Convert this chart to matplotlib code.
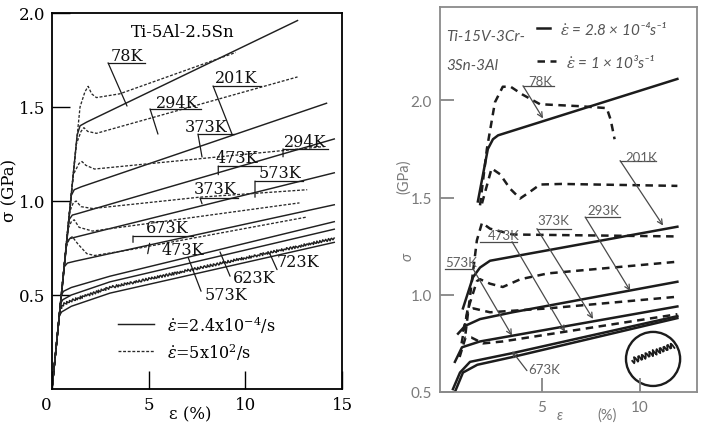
import matplotlib
matplotlib.use("Agg")
import matplotlib.pyplot as plt
from matplotlib.patches import Ellipse

plt.rcParams['mathtext.fontset'] = 'dejavuserif'

# ---------------- left panel: Ti-5Al-2.5Sn (strain %, stress GPa) ----------------
# solid = quasi-static 2.4x10^-4/s
l_s78 = ([0, 1.3, 1.45, 1.8, 12.7], [0, 1.35, 1.40, 1.42, 1.96])
l_s201 = ([0, 1.0, 1.15, 1.5, 14.2], [0, 1.03, 1.06, 1.075, 1.52])
l_s294 = ([0, 0.88, 1.05, 1.4, 14.6], [0, 0.90, 0.925, 0.935, 1.33])
l_s373 = ([0, 0.76, 0.92, 1.3, 14.6], [0, 0.78, 0.80, 0.81, 1.15])
l_s473 = ([0, 0.63, 0.8, 1.2, 14.6], [0, 0.65, 0.67, 0.68, 0.98])
l_s623 = ([0, 0.48, 0.6, 1.0, 3.0, 14.6], [0, 0.50, 0.52, 0.54, 0.60, 0.89])
l_s673 = ([0, 0.44, 0.56, 1.0, 3.0, 14.6], [0, 0.455, 0.475, 0.50, 0.57, 0.85])
l_s723 = ([0, 0.38, 0.5, 1.0, 3.0, 14.6], [0, 0.39, 0.41, 0.44, 0.51, 0.78])
l_s573_el = ([0, 0.42], [0, 0.43])
l_s573_pl = ([0.42, 0.6, 1.0, 3.0, 14.6], [0.43, 0.45, 0.47, 0.54, 0.80])   # serrated

# dashed = dynamic 5x10^2/s
l_d78 = ([0, 1.45, 1.7, 1.87, 2.05, 2.3, 3.5, 9.5],
         [0, 1.50, 1.58, 1.61, 1.57, 1.55, 1.57, 1.79])
l_d294 = ([0, 1.25, 1.5, 1.65, 1.85, 2.3, 12.7],
          [0, 1.30, 1.37, 1.39, 1.37, 1.36, 1.66])
l_d373 = ([0, 1.1, 1.4, 1.55, 1.75, 2.2, 14.1],
          [0, 1.14, 1.20, 1.21, 1.19, 1.17, 1.29])
l_d473 = ([0, 0.9, 1.1, 1.25, 1.5, 2.1, 7.6, 13.2],
          [0, 0.94, 0.99, 1.00, 0.97, 0.96, 1.02, 1.06])
l_d573 = ([0, 0.82, 1.0, 1.15, 1.4, 2.1, 12.8],
          [0, 0.85, 0.89, 0.90, 0.86, 0.84, 0.99])
l_d673 = ([0, 0.72, 0.9, 1.05, 1.35, 1.8, 2.2, 4.0, 13.2],
          [0, 0.75, 0.80, 0.81, 0.77, 0.72, 0.71, 0.74, 0.915])

# labels: text, text centre, leader start, leader end, underline end
l_labels = [
    ("78K", (3.85, 1.775), (2.9, 1.735), (3.88, 1.505), 4.8),
    ("201K", (9.55, 1.655), (8.33, 1.612), (9.31, 1.356), 10.8),
    ("294K", (6.45, 1.525), (5.07, 1.49), (5.48, 1.356), 7.7),
    ("373K", (7.98, 1.396), (7.55, 1.356), (7.76, 1.234), 9.4),
    ("294K", (13.1, 1.316), (11.95, 1.277), (11.95, 1.235), 14.3),
    ("473K", (9.55, 1.23), (8.6, 1.186), (8.6, 1.14), 10.8),
    ("573K", (11.8, 1.15), (10.5, 1.106), (10.5, 1.02), 13.0),
    ("373K", (8.43, 1.065), (7.66, 1.016), (7.76, 0.985), 9.6),
    ("673K", (5.97, 0.86), (4.19, 0.814), (4.19, 0.78), 7.3),
    ("473K", (6.75, 0.74), (5.05, 0.775), (4.95, 0.72), None),
    ("623K", (10.45, 0.593), (9.21, 0.60), (8.69, 0.729), None),
    ("573K", (9.0, 0.50), (7.71, 0.52), (7.04, 0.70), None),
    ("723K", (12.7, 0.68), (11.28, 0.717), (11.64, 0.635), None),
]

# ---------------- right panel: Ti-15V-3Cr-3Sn-3Al ----------------
r_s78 = ([1.73, 2.24, 2.5, 2.76, 11.9], [1.48, 1.75, 1.80, 1.82, 2.11])
r_d78 = ([1.84, 2.19, 2.6, 3.0, 3.4, 4.0, 4.9, 6.9, 8.3, 8.5, 8.7],
         [1.46, 1.75, 1.99, 2.07, 2.07, 2.03, 1.98, 1.97, 1.96, 1.90, 1.80])
r_d201 = ([1.94, 2.43, 2.86, 3.37, 3.88, 4.39, 4.9, 6.0, 11.9],
          [1.47, 1.65, 1.62, 1.546, 1.495, 1.53, 1.567, 1.57, 1.56])
r_s293 = ([0.97, 1.48, 1.84, 2.35, 11.9], [0.93, 1.09, 1.14, 1.175, 1.35])
r_d293 = ([1.1, 1.4, 1.68, 1.94, 2.35, 3.5, 11.9], [0.80, 1.05, 1.28, 1.37, 1.34, 1.31, 1.30])
r_s373 = ([0.72, 1.08, 1.84, 3.5, 11.9], [0.80, 0.84, 0.875, 0.91, 1.067])
r_d373 = ([0.97, 1.3, 1.68, 1.84, 2.35, 3.0, 3.9, 5.3, 11.9],
          [0.81, 0.95, 1.07, 1.08, 1.057, 1.04, 1.08, 1.11, 1.17])
r_s473 = ([0.56, 0.92, 1.84, 11.9], [0.655, 0.73, 0.76, 0.94])
r_d473 = ([0.9, 1.2, 1.5, 2.35, 5.3, 11.9], [0.75, 0.92, 0.93, 0.91, 0.93, 0.99])
r_d573 = ([0.8, 1.1, 1.4, 2.0, 3.0, 11.9], [0.68, 0.78, 0.78, 0.75, 0.76, 0.90])
r_s573 = ([0.46, 0.82, 1.33, 3.5, 11.9], [0.515, 0.60, 0.655, 0.70, 0.89])
r_s673 = ([0.56, 0.97, 1.7, 3.5, 11.9], [0.50, 0.60, 0.64, 0.68, 0.88])
r_zigzag = ([9.6, 11.7], [0.66, 0.74])

r_labels = [
    ("78K", (4.9, 2.10), (4.03, 2.075), (5.05, 1.907), 5.6),
    ("201K", (10.05, 1.71), (8.98, 1.69), (11.17, 1.356), 10.8),
    ("293K", (8.15, 1.435), (7.2, 1.40), (9.5, 1.02), 9.0),
    ("373K", (5.6, 1.385), (4.74, 1.34), (7.6, 0.876), 6.5),
    ("473K", (3.05, 1.305), (3.47, 1.273), (6.17, 0.81), None),
    ("573K", (0.9, 1.17), (1.48, 1.134), (3.47, 0.79), None),
    ("673K", (5.1, 0.62), (4.23, 0.61), (3.47, 0.71), None),
]

fig = plt.figure(figsize=(7.04, 4.27), dpi=100)
ax1 = fig.add_axes([52 / 704, 1 - 390 / 427, 290 / 704, 376 / 427])
ax2 = fig.add_axes([440 / 704, 1 - 393 / 427, 257 / 704, 385 / 427])

serif = 'DejaVu Serif'
sans = ['Lato', 'DejaVu Sans']

# ---- left drawing ----
sk = dict(color='#202020', lw=1.05)
dk = dict(color='#2a2a2a', lw=0.95, linestyle=(0, (2.2, 1.3)))
for c in [l_s78, l_s201, l_s294, l_s373, l_s473, l_s623, l_s673, l_s723, l_s573_el]:
    ax1.plot(c[0], c[1], **sk)
ln, = ax1.plot(l_s573_pl[0], l_s573_pl[1], **sk)
ln.set_sketch_params(scale=1.3, length=3, randomness=1.5)
for c in [l_d78, l_d294, l_d373, l_d473, l_d573, l_d673]:
    ax1.plot(c[0], c[1], **dk)

for txt, tp, p0, p1, uend in l_labels:
    ax1.text(tp[0], tp[1], txt, family=serif, fontsize=11.5, ha='center', va='center', color='#111111')
    ax1.annotate('', xy=p1, xytext=p0, arrowprops=dict(arrowstyle='-', lw=0.9, color='#1a1a1a',
                                                       shrinkA=0, shrinkB=0))
    if uend is not None:
        ax1.plot([p0[0], uend], [p0[1], p0[1]], color='#1a1a1a', lw=0.9)

ax1.text(6.78, 1.90, "Ti-5Al-2.5Sn", family=serif, fontsize=12, ha='center', va='center')
ax1.plot([3.4, 5.3], [0.345, 0.345], **sk)
ax1.plot([3.4, 5.3], [0.20, 0.20], **dk)
ax1.text(5.95, 0.345, r'$\dot{\varepsilon}$=2.4x10$^{-4}$/s', family=serif, fontsize=11.5, va='center')
ax1.text(5.95, 0.20, r'$\dot{\varepsilon}$=5x10$^{2}$/s', family=serif, fontsize=11.5, va='center')

ax1.set_xlim(0, 15)
ax1.set_ylim(0, 2.0)
ax1.set_xticks([0, 5, 10, 15])
ax1.set_xticklabels(['0', '5', '10', '15'], family=serif, fontsize=12)
ax1.get_xticklabels()[0].set_ha('right')
ax1.set_yticks([0.5, 1.0, 1.5, 2.0])
ax1.set_yticklabels(['0.5', '1.0', '1.5', '2.0'], family=serif, fontsize=12)
ax1.tick_params(direction='in', length=13, width=1.0, pad=5)
for s in ax1.spines.values():
    s.set_linewidth(1.3)
fig.text(10 / 704, 1 - 190 / 427, "σ (GPa)", rotation=90, family=serif, fontsize=12,
         ha='center', va='center')
fig.text(190 / 704, 1 - 415 / 427, "ε (%)", family=serif, fontsize=12, ha='center', va='center')

# ---- right drawing ----
grey = '#7a7a7a'
rs = dict(color='#1c1c1c', lw=1.8)
rd = dict(color='#1c1c1c', lw=1.8, linestyle=(0, (3.0, 2.2)))
for c in [r_s78, r_s293, r_s373, r_s473, r_s573, r_s673]:
    ax2.plot(c[0], c[1], **rs)
for c in [r_d78, r_d201, r_d293, r_d373, r_d473, r_d573]:
    ax2.plot(c[0], c[1], **rd)

ax2.add_patch(Ellipse((10.66, 0.67), 2.76, 0.278, fill=False, lw=1.7, color='#1c1c1c'))
zz, = ax2.plot(r_zigzag[0], r_zigzag[1], color='#1c1c1c', lw=1.3)
zz.set_sketch_params(scale=3, length=4, randomness=1.2)

for txt, tp, p0, p1, uend in r_labels:
    ax2.text(tp[0], tp[1], txt, family=sans, fontsize=9.5, ha='center', va='center', color='#606060')
    ax2.annotate('', xy=p1, xytext=p0,
                 arrowprops=dict(arrowstyle='->', lw=0.9, color='#4a4a4a', shrinkA=0, shrinkB=0,
                                 mutation_scale=9))
    if uend is not None:
        ax2.plot([p0[0], uend], [p0[1], p0[1]], color='#4a4a4a', lw=0.9)
# underlines that start left of the leader
ax2.plot([1.85, 3.75], [1.273, 1.273], color='#4a4a4a', lw=0.9)
ax2.plot([0.05, 1.5], [1.134, 1.134], color='#4a4a4a', lw=0.9)

ax2.text(0.1, 2.33, "Ti-15V-3Cr-", family=sans, fontsize=11, style='italic', color='#555555',
         va='center')
ax2.text(0.1, 2.18, "3Sn-3Al", family=sans, fontsize=11, style='italic', color='#555555',
         va='center')
ax2.plot([4.74, 5.4], [2.37, 2.37], **rs)
ax2.plot([4.74, 5.7], [2.20, 2.20], **rd)
ax2.text(5.9, 2.37, r'$\dot{\varepsilon}$ = 2.8 × 10⁻⁴s⁻¹', family=sans, fontsize=11,
         style='italic', color='#555555', va='center')
ax2.text(6.2, 2.20, r'$\dot{\varepsilon}$ = 1 × 10³s⁻¹', family=sans, fontsize=11,
         style='italic', color='#555555', va='center')

ax2.set_xlim(-0.2, 12.9)
ax2.set_ylim(0.5, 2.48)
ax2.set_xticks([5, 10])
ax2.set_xticklabels(['5', '10'], family=sans, fontsize=11, color=grey)
ax2.set_yticks([0.5, 1.0, 1.5, 2.0])
ax2.set_yticklabels(['0.5', '1.0', '1.5', '2.0'], family=sans, fontsize=11, color=grey)
ax2.tick_params(direction='in', length=10, width=1.2, color=grey, pad=6)
for s in ax2.spines.values():
    s.set_color('#8a8a8a')
    s.set_linewidth(1.3)
fig.text(404 / 704, 1 - 177 / 427, "(GPa)", rotation=90, family=sans, fontsize=10.5, color=grey,
         ha='center', va='center')
fig.text(408 / 704, 1 - 257 / 427, "σ", rotation=90, family=sans, fontsize=10.5, color=grey,
         style='italic', ha='center', va='center')
fig.text(560 / 704, 1 - 416 / 427, "ε", family=sans, fontsize=10.5, color=grey, style='italic',
         ha='center', va='center')
fig.text(607 / 704, 1 - 416 / 427, "(%)", family=sans, fontsize=10.5, color=grey,
         ha='center', va='center')

fig.savefig("out.png", dpi=100)
